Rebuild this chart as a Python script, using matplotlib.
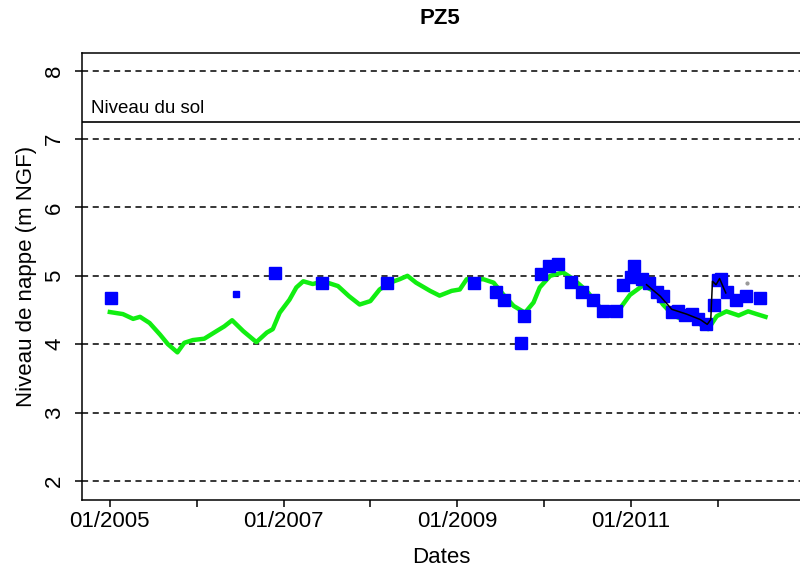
import matplotlib
matplotlib.use("Agg")
import matplotlib.pyplot as plt
import pandas as pd

plt.rcParams["font.family"] = ["Liberation Sans", "DejaVu Sans"]

# simulated level (green)
sim_dates = [
    "2005-01-01", "2005-02-25", "2005-04-09", "2005-05-08", "2005-06-17",
    "2005-07-31", "2005-09-02", "2005-10-12", "2005-11-10", "2005-12-16",
    "2006-02-02", "2006-03-25", "2006-04-27", "2006-05-30", "2006-07-16",
    "2006-09-09", "2006-10-23", "2006-11-17", "2006-12-16", "2007-01-26",
    "2007-02-24", "2007-03-25", "2007-05-04", "2007-06-17", "2007-08-18",
    "2007-10-04", "2007-11-17", "2008-01-01", "2008-02-09", "2008-03-24",
    "2008-05-03", "2008-06-05", "2008-07-11", "2008-09-08", "2008-10-18",
    "2008-12-08", "2009-01-11", "2009-02-09", "2009-04-20", "2009-06-02",
    "2009-07-12", "2009-08-25", "2009-10-12", "2009-11-17", "2009-12-13",
    "2010-01-26", "2010-03-21", "2010-05-04", "2010-06-28", "2010-08-25",
    "2010-09-27", "2010-11-17", "2010-12-27", "2011-02-20", "2011-04-05",
    "2011-05-15", "2011-06-28", "2011-08-07", "2011-09-12", "2011-10-19",
    "2011-11-21", "2011-12-27", "2012-02-06", "2012-03-28", "2012-05-07",
    "2012-06-12", "2012-07-19",
]
sim_level = [
    4.47, 4.44, 4.37, 4.40, 4.31, 4.14, 4.00, 3.88, 4.02, 4.06,
    4.08, 4.19, 4.26, 4.35, 4.19, 4.03, 4.17, 4.22, 4.46, 4.65,
    4.83, 4.92, 4.88, 4.92, 4.85, 4.70, 4.58, 4.63, 4.80, 4.90,
    4.95, 5.00, 4.90, 4.78, 4.71, 4.78, 4.80, 4.95, 4.95, 4.90,
    4.73, 4.56, 4.46, 4.61, 4.83, 5.00, 5.05, 4.95, 4.78, 4.53,
    4.42, 4.53, 4.72, 4.86, 4.78, 4.58, 4.42, 4.36, 4.39, 4.29,
    4.22, 4.41, 4.48, 4.42, 4.48, 4.44, 4.40,
]

# manual measurements (blue squares)
obs_dates = [
    "2005-01-05", "2006-11-28", "2007-06-13", "2008-03-10", "2009-03-10",
    "2009-06-13", "2009-07-17", "2009-09-25", "2009-10-08", "2009-12-17",
    "2010-01-19", "2010-02-27", "2010-04-23", "2010-06-08", "2010-07-23",
    "2010-09-06", "2010-10-30", "2010-11-27", "2010-12-31", "2011-01-12",
    "2011-02-17", "2011-03-19", "2011-04-22", "2011-05-15", "2011-06-22",
    "2011-07-19", "2011-08-15", "2011-09-13", "2011-10-10", "2011-11-13",
    "2011-12-14", "2012-01-01", "2012-01-14", "2012-02-08", "2012-03-19",
    "2012-04-26", "2012-06-27",
]
obs_level = [
    4.68, 5.04, 4.89, 4.89, 4.90,
    4.76, 4.64, 4.01, 4.41, 5.02,
    5.15, 5.18, 4.91, 4.76, 4.65,
    4.49, 4.48, 4.86, 4.99, 5.15,
    4.96, 4.90, 4.76, 4.71, 4.47,
    4.48, 4.42, 4.44, 4.37, 4.29,
    4.58, 4.94, 4.95, 4.76, 4.65,
    4.70, 4.68,
]
small_dates = ["2006-06-17"]
small_level = [4.73]

# continuous probe record (black)
probe_dates = [
    "2011-03-07", "2011-05-04", "2011-06-21", "2011-08-22", "2011-10-19",
    "2011-11-17", "2011-12-02", "2011-12-09", "2011-12-24", "2012-01-08",
    "2012-01-19", "2012-02-03",
]
probe_level = [4.87, 4.70, 4.51, 4.44, 4.36, 4.29, 4.36, 4.92, 4.87, 4.96, 4.87, 4.75]

extra_dates = ["2012-05-01"]
extra_level = [4.90]

ground_level = 7.25
grid_levels = [2, 3, 4, 5, 6, 7, 8]

fig = plt.figure(figsize=(8, 5.71), dpi=100)
ax = fig.add_axes([82 / 800, 1 - 500 / 571, 718 / 800, 447 / 571])

for g in grid_levels:
    ax.axhline(g, color="black", lw=1.1, dashes=(4, 3), zorder=1)
ax.axhline(ground_level, color="black", lw=1.2, zorder=1)
ax.text(pd.Timestamp("2004-10-15"), ground_level + 0.08, "Niveau du sol",
        fontsize=13.5, va="bottom", ha="left")

ax.plot(pd.to_datetime(sim_dates), sim_level, color="#11ee11", lw=3.2, zorder=2)
ax.plot(pd.to_datetime(probe_dates), probe_level, color="black", lw=1.1, zorder=4)
ax.plot(pd.to_datetime(obs_dates), obs_level, ls="none", marker="s",
        ms=8, color="#0000ff", zorder=3)
ax.plot(pd.to_datetime(small_dates), small_level, ls="none", marker="s",
        ms=5, color="#0000ff", zorder=3)
ax.plot(pd.to_datetime(extra_dates), extra_level, ls="none", marker="o",
        ms=2, color="#999999", zorder=3)

ax.set_xlim(pd.Timestamp("2004-09-06"), pd.Timestamp("2012-12-11"))
ax.set_ylim(1.72, 8.26)

years = pd.date_range("2005-01-01", "2012-01-01", freq="YS")
ax.set_xticks(years)
ax.set_xticklabels([d.strftime("%m/%Y") if d.year % 2 == 1 else "" for d in years])
ax.set_yticks(grid_levels)
ax.set_yticklabels([str(g) for g in grid_levels], rotation=90, va="center")

ax.tick_params(axis="both", labelsize=16, length=5, width=1.1, direction="out")
ax.tick_params(axis="x", pad=3)
ax.tick_params(axis="y", pad=7)
ax.spines["right"].set_visible(False)
for s in ["left", "top", "bottom"]:
    ax.spines[s].set_linewidth(1.1)

ax.set_xlabel("Dates", fontsize=16, labelpad=11)
ax.set_ylabel("Niveau de nappe (m NGF)", fontsize=16, labelpad=5)
fig.text(440 / 800, 1 - 18 / 571, "PZ5", fontsize=16, fontweight="bold",
         ha="center", va="center")

fig.savefig("out.png", dpi=100)
